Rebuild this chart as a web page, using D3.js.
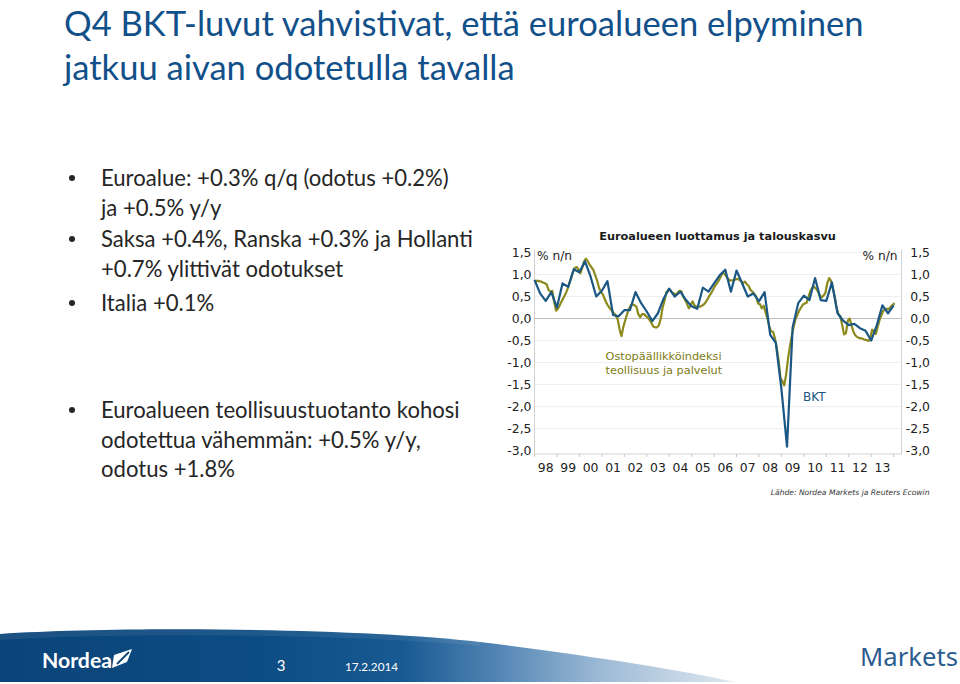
<!DOCTYPE html>
<html>
<head>
<meta charset="utf-8">
<script src="https://cdn.jsdelivr.net/npm/d3@7"></script>
<style>
  html, body { margin: 0; padding: 0; background: #fff; }
  svg { display: block; }
</style>
</head>
<body>
<svg id="slide" width="960" height="684"></svg>
<script>
// Euro area GDP, % q/q — quarterly, 1997 Q4 .. 2013 Q4
const gdpFirstYear = 1998;   // 1997 Q4 sits on the 1998 boundary, one point per quarter after that
const gdpValues = [
  0.88, 0.57, 0.40, 0.60, 0.25, 0.80, 0.72, 1.12, 1.05, 1.30,
  0.95, 0.50, 0.63, 0.85, 0.08, 0.05, 0.19, 0.19, 0.60, 0.35,
  0.16, -0.06, 0.12, 0.45, 0.68, 0.50, 0.61, 0.42, 0.28, 0.22,
  0.70, 0.61, 0.80, 0.98, 1.11, 0.61, 1.09, 0.80, 0.50, 0.57,
  0.39, 0.60, -0.37, -0.55, -1.60, -2.91, -0.20, 0.35, 0.52, 0.42,
  0.92, 0.42, 0.40, 0.82, 0.12, -0.05, -0.15, -0.12, -0.22, -0.28,
  -0.50, -0.15, 0.30, 0.12, 0.30
];

// Composite PMI (manufacturing + services) implied growth, % q/q — monthly, Jan 1998 .. Jan 2014
const pmiFirstYear = 1998;
const pmiValues = [
  0.83, 0.86, 0.85, 0.84, 0.82, 0.80, 0.78, 0.65, 0.61, 0.63,
  0.38, 0.18, 0.22, 0.30, 0.39, 0.47, 0.55, 0.65, 0.78, 0.90,
  1.05, 1.15, 1.17, 1.12, 1.03, 1.15, 1.30, 1.36, 1.30, 1.22,
  1.16, 1.10, 0.98, 0.86, 0.70, 0.61, 0.55, 0.45, 0.35, 0.28,
  0.22, 0.17, 0.12, 0.07, -0.02, -0.25, -0.40, -0.19, -0.04, 0.10,
  0.22, 0.30, 0.32, 0.30, 0.27, 0.10, 0.03, 0.10, 0.10, 0.06,
  0.02, -0.03, -0.10, -0.18, -0.20, -0.20, -0.15, 0.00, 0.25, 0.40,
  0.60, 0.64, 0.65, 0.59, 0.57, 0.55, 0.58, 0.63, 0.62, 0.50,
  0.42, 0.34, 0.23, 0.30, 0.39, 0.30, 0.27, 0.27, 0.27, 0.29,
  0.32, 0.37, 0.44, 0.52, 0.58, 0.66, 0.74, 0.80, 0.86, 0.95,
  1.04, 1.02, 0.96, 0.90, 0.86, 0.87, 0.87, 0.89, 0.90, 0.88,
  0.85, 0.80, 0.84, 0.78, 0.74, 0.65, 0.61, 0.56, 0.50, 0.34,
  0.33, 0.23, 0.29, 0.15, 0.00, -0.18, -0.29, -0.30, -0.44, -0.66,
  -0.95, -1.35, -1.42, -1.52, -1.28, -0.92, -0.65, -0.40, -0.20, -0.02,
  0.08, 0.18, 0.25, 0.32, 0.34, 0.36, 0.50, 0.63, 0.70, 0.72,
  0.68, 0.62, 0.52, 0.48, 0.52, 0.58, 0.80, 0.92, 0.86, 0.68,
  0.50, 0.24, 0.10, 0.05, -0.15, -0.36, -0.33, -0.05, 0.00, -0.16,
  -0.30, -0.38, -0.42, -0.44, -0.45, -0.46, -0.48, -0.49, -0.51, -0.46,
  -0.25, -0.30, -0.35, -0.18, -0.03, 0.08, 0.18, 0.20, 0.22, 0.22,
  0.27, 0.31, 0.35
];

const years = d3.range(1998, 2014);
const yearLabels = ["98", "99", "00", "01", "02", "03", "04", "05", "06", "07", "08", "09", "10", "11", "12", "13"];
const yTicks = [1.5, 1.0, 0.5, 0.0, -0.5, -1.0, -1.5, -2.0, -2.5, -3.0];

const titleLines = [
  "Q4 BKT-luvut vahvistivat, että euroalueen elpyminen",
  "jatkuu aivan odotetulla tavalla"
];
const bullets = [
  ["Euroalue: +0.3% q/q (odotus +0.2%)", "ja +0.5% y/y"],
  ["Saksa +0.4%, Ranska +0.3% ja Hollanti", "+0.7% ylittivät odotukset"],
  ["Italia +0.1%"],
  ["Euroalueen teollisuustuotanto kohosi", "odotettua vähemmän: +0.5% y/y,", "odotus +1.8%"]
];

const BLUE = "#1a5784";
const OLIVE = "#8c8a1c";
const TITLE_BLUE = "#12508a";

const svg = d3.select("#slide");

// shrink/grow a text element's font size until it spans the given width
function fitWidth(sel, width) {
  const w = sel.node().getComputedTextLength();
  const fs = parseFloat(sel.attr("font-size")) * width / w;
  sel.attr("font-size", fs);
  return fs;
}

// ---------- slide title ----------
const title = svg.append("g").attr("font-family", "Lato, 'Open Sans', sans-serif").attr("fill", TITLE_BLUE);
const t1 = title.append("text").attr("x", 64).attr("font-size", 30).text(titleLines[0]);
const titleSize = fitWidth(t1, 800);
t1.attr("y", Math.ceil(titleSize) + 0.5);   // keep the ascent inside the slide
title.append("text").attr("x", 64).attr("y", Math.ceil(titleSize) + 45).attr("font-size", titleSize).text(titleLines[1]);

// ---------- bullets ----------
const bulletG = svg.append("g").attr("font-family", "Lato, 'Open Sans', sans-serif").attr("fill", "#262626");
const probe = bulletG.append("text").attr("font-size", 22).text(bullets[1][0]);
const bulletSize = fitWidth(probe, 372);
probe.remove();
const bulletTops = [186, 247, 311, 418];
bullets.forEach((lines, bi) => {
  bulletG.append("circle").attr("cx", 72).attr("cy", bulletTops[bi] - 8).attr("r", 3).attr("fill", "#262626");
  lines.forEach((ln, li) => {
    bulletG.append("text")
      .attr("x", 101).attr("y", bulletTops[bi] + li * 29.5)
      .attr("font-size", bulletSize)
      .text(ln);
  });
});

// ---------- chart ----------
const x = d3.scaleLinear().domain([1998, 2014.35]).range([534.5, 901.5]);
const y = d3.scaleLinear().domain([-3, 1.5]).range([450.6, 252.5]);
const plotTop = 249.5, plotBottom = 454;
const [plotLeft, plotRight] = x.range();

const loc = d3.formatLocale({ decimal: ",", thousands: " ", grouping: [3], currency: ["", ""], minus: "-" });
const fmt = loc.format(".1f");

const chart = svg.append("g").attr("font-family", "'DejaVu Sans', Verdana, sans-serif");

// gridlines
chart.append("g").selectAll("line").data(yTicks.filter(d => d > -3)).enter().append("line")
  .attr("x1", plotLeft).attr("x2", plotRight)
  .attr("y1", d => y(d)).attr("y2", d => y(d))
  .attr("stroke", d => d === 0 ? "#bdbdbd" : "#efefef")
  .attr("stroke-width", 1);

// frame: left, right, bottom
chart.append("line").attr("x1", plotLeft).attr("x2", plotLeft).attr("y1", plotTop).attr("y2", plotBottom).attr("stroke", "#d2d2d2");
chart.append("line").attr("x1", plotRight).attr("x2", plotRight).attr("y1", plotTop).attr("y2", plotBottom).attr("stroke", "#d2d2d2");
chart.append("line").attr("x1", plotLeft).attr("x2", plotRight).attr("y1", plotBottom).attr("y2", plotBottom).attr("stroke", "#d2d2d2");

// year boundary ticks
chart.append("g").selectAll("line").data(d3.range(1998, 2015)).enter().append("line")
  .attr("x1", d => x(d)).attr("x2", d => x(d))
  .attr("y1", plotBottom).attr("y2", plotBottom + 3)
  .attr("stroke", "#c8c8c8");

// y labels both sides
const yl = chart.append("g").attr("font-size", 12.4).attr("fill", "#222");
yl.selectAll("text.l").data(yTicks).enter().append("text")
  .attr("class", "l").attr("x", 531.5).attr("y", d => y(d))
  .attr("text-anchor", "end").attr("dominant-baseline", "central")
  .text(fmt);
yl.selectAll("text.r").data(yTicks).enter().append("text")
  .attr("class", "r").attr("x", 930).attr("y", d => y(d))
  .attr("text-anchor", "end").attr("dominant-baseline", "central")
  .text(fmt);

// x labels (mid-year)
chart.append("g").attr("font-size", 12.4).attr("fill", "#222")
  .selectAll("text").data(years).enter().append("text")
  .attr("x", d => x(d + 0.5)).attr("y", 467)
  .attr("text-anchor", "middle").attr("dominant-baseline", "central")
  .text((d, i) => yearLabels[i]);

// series
const pmiPts = pmiValues.map((v, m) => [pmiFirstYear + (m + 0.5) / 12, v]);
const gdpPts = gdpValues.map((v, i) => [gdpFirstYear + i * 0.25, v]);
const line = d3.line().x(d => x(d[0])).y(d => y(d[1]));

chart.append("path").datum(pmiPts)
  .attr("d", line).attr("fill", "none")
  .attr("stroke", OLIVE).attr("stroke-width", 2.2).attr("stroke-linejoin", "round");
chart.append("path").datum(gdpPts)
  .attr("d", line).attr("fill", "none")
  .attr("stroke", BLUE).attr("stroke-width", 2.2).attr("stroke-linejoin", "round");

// chart titles / units
chart.append("text").attr("x", 717.5).attr("y", 236).attr("text-anchor", "middle")
  .attr("dominant-baseline", "central").attr("font-weight", "bold").attr("font-size", 11.3)
  .attr("fill", "#1a1a1a").text("Euroalueen luottamus ja talouskasvu");
chart.append("text").attr("x", 537).attr("y", 256).attr("dominant-baseline", "central")
  .attr("font-size", 12.2).attr("fill", "#222").text("% n/n");
chart.append("text").attr("x", 897.5).attr("y", 256).attr("text-anchor", "end").attr("dominant-baseline", "central")
  .attr("font-size", 12.2).attr("fill", "#222").text("% n/n");

// series labels
chart.append("text").attr("x", 605.5).attr("y", 356).attr("dominant-baseline", "central")
  .attr("font-size", 11.3).attr("fill", "#7d7b14").text("Ostopäällikköindeksi");
chart.append("text").attr("x", 605.5).attr("y", 370.5).attr("dominant-baseline", "central")
  .attr("font-size", 11.3).attr("fill", "#7d7b14").text("teollisuus ja palvelut");
chart.append("text").attr("x", 803).attr("y", 397).attr("dominant-baseline", "central")
  .attr("font-size", 12).attr("fill", BLUE).text("BKT");

// source
chart.append("text").attr("x", 929.5).attr("y", 492).attr("text-anchor", "end").attr("dominant-baseline", "central")
  .attr("font-size", 7.6).attr("font-style", "italic").attr("fill", "#333")
  .text("Lähde: Nordea Markets ja Reuters Ecowin");

// ---------- footer band ----------
const defs = svg.append("defs");
const grad = defs.append("linearGradient").attr("id", "band")
  .attr("x1", 0).attr("x2", 735).attr("y1", 0).attr("y2", 0).attr("gradientUnits", "userSpaceOnUse");
[[0, "#0a4479"], [0.35, "#0d4c83"], [0.55, "#195a92"], [0.66, "#4a7fb0"], [0.82, "#9ebbd6"], [1, "#dfe8f0"]]
  .forEach(([o, c]) => grad.append("stop").attr("offset", o).attr("stop-color", c));

const footer = svg.append("g");
footer.append("path")
  .attr("d", "M0,634 C120,626 360,628 480,642 C580,654 680,670 735,682 L0,682 Z")
  .attr("fill", "url(#band)");
footer.append("path")
  .attr("d", "M0,634 C120,626 360,628 480,642 L480,646 C360,634 120,632 0,640 Z")
  .attr("fill", "#ffffff").attr("opacity", 0.07);

// Nordea logo
const nordea = footer.append("text").attr("x", 42).attr("y", 668)
  .attr("font-family", "Lato, 'Open Sans', sans-serif").attr("font-weight", "bold")
  .attr("font-size", 19).attr("fill", "#fff").text("Nordea");
fitWidth(nordea, 70);
footer.append("path").attr("d", "M114,655 L132,649 L127,662 L112,668 Z").attr("fill", "#fff");
footer.append("path").attr("d", "M117,664 L129,652").attr("stroke", "#0a4479").attr("stroke-width", 1.8);

footer.append("text").attr("x", 281).attr("y", 671).attr("text-anchor", "middle")
  .attr("font-family", "Lato, sans-serif").attr("font-size", 15).attr("fill", "#fff").text("3");
const dateT = footer.append("text").attr("x", 345).attr("y", 671)
  .attr("font-family", "Lato, sans-serif").attr("font-size", 14).attr("fill", "#fff").text("17.2.2014");
fitWidth(dateT, 53);

const markets = footer.append("text").attr("x", 860).attr("y", 666)
  .attr("font-family", "'Noto Sans', 'Open Sans', sans-serif").attr("font-size", 22)
  .attr("fill", "#2b5d8f").text("Markets");
fitWidth(markets, 98);
</script>
</body>
</html>
